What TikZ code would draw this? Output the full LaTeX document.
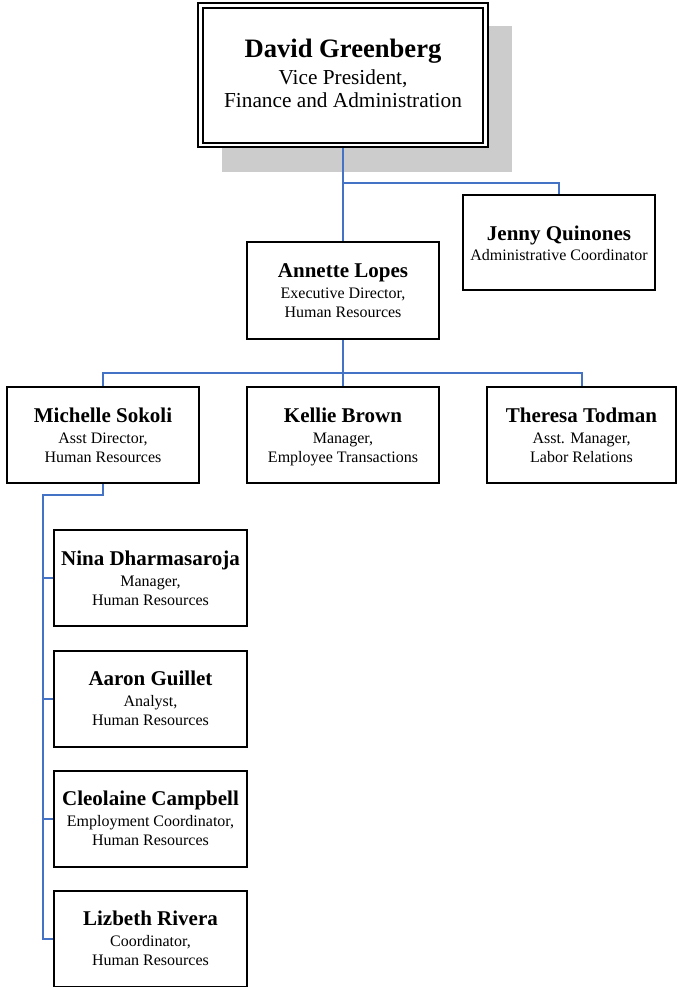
\documentclass[tikz,border=0pt]{standalone}
\usepackage{fontspec}
\setmainfont{Liberation Serif}
\usepackage{tikz}
\usetikzlibrary{calc}
\definecolor{linkblue}{HTML}{4472C4}
\definecolor{shadowgray}{HTML}{CCCCCC}
\def\pname#1{{\fontsize{21}{21}\selectfont\bfseries #1}}
\def\who#1#2#3{\pname{#1}\\[2pt]#2\\\smash{#3}}

\begin{document}
\begin{tikzpicture}[x=1pt, y=-1pt,
	person/.style={draw, line width=2pt, fill=white, align=center, inner sep=0pt,
		minimum width=193pt, minimum height=96pt, font=\fontsize{16}{19}\selectfont},
	link/.style={draw=linkblue, line width=2pt}]
			%%%%% START %%%%%
			\useasboundingbox (0, 0) rectangle (677, 987);
			
			\fill[shadowgray] (222, 26) rectangle (512, 172);
			
			\node[person, line width=2.4pt, minimum width=290pt, minimum height=144pt,
				font=\fontsize{21.3}{23.5}\selectfont] (vp) at (343, 75)
				{{\fontsize{26.6}{26.6}\selectfont\bfseries David Greenberg}\\[3.5pt]Vice President,\\\smash{Finance and Administration}\rule[-3pt]{0pt}{3pt}};
			\node[draw, line width=1.1pt, minimum width=280pt, minimum height=135pt] (vpin) at (343, 75.5) {};
			
			\node[person, minimum width=192pt, minimum height=95pt] (jq) at (559, 242.5)
				{\rule{0pt}{16pt}\pname{Jenny Quinones}\\[0.5pt]\smash{Administrative Coordinator}};
			\node[person, minimum width=192pt, minimum height=97pt] (al) at (343, 290.5)
				{\who{Annette Lopes}{Executive Director,}{Human Resources}};
			
			\node[person, minimum width=192pt] (ms) at (103, 435)
				{\who{Michelle Sokoli}{Asst Director,}{Human Resources}};
			\node[person, minimum width=192pt] (kb) at (343, 435)
				{\who{Kellie Brown}{Manager,}{Employee Transactions}};
			\node[person, minimum width=189pt] (tt) at (581.5, 435)
				{\who{Theresa Todman}{Asst. Manager,}{Labor Relations}};
			
			\node[person] (nd) at (150.5, 578)
				{\who{Nina Dharmasaroja}{Manager,}{Human Resources}};
			\node[person] (ag) at (150.5, 698.5)
				{\who{Aaron Guillet}{Analyst,}{Human Resources}};
			\node[person] (cc) at (150.5, 818.5)
				{\who{Cleolaine Campbell}{Employment Coordinator,}{Human Resources}};
			\node[person] (lr) at (150.5, 938.5)
				{\who{Lizbeth Rivera}{Coordinator,}{Human Resources}};
			
			% connectors
			\coordinate (vpsplit) at (343, 183);
			\draw[link] (vp.south) -- (al.north);
			\draw[link] (vpsplit) -| (jq.north);
			
			\draw[link] (al.south) -- (kb.north);
			\draw[link] (ms.north) -- ++(0, -13) -| (tt.north);
			
			\coordinate (spine) at (43, 495);
			\draw[link] (ms.south) |- (spine) |- (lr.west);
			\draw[link] (spine |- nd.west) -- (nd.west);
			\draw[link] (spine |- ag.west) -- (ag.west);
			\draw[link] (spine |- cc.west) -- (cc.west);
			
			%%%%% END %%%%%
\end{tikzpicture}
\end{document}
